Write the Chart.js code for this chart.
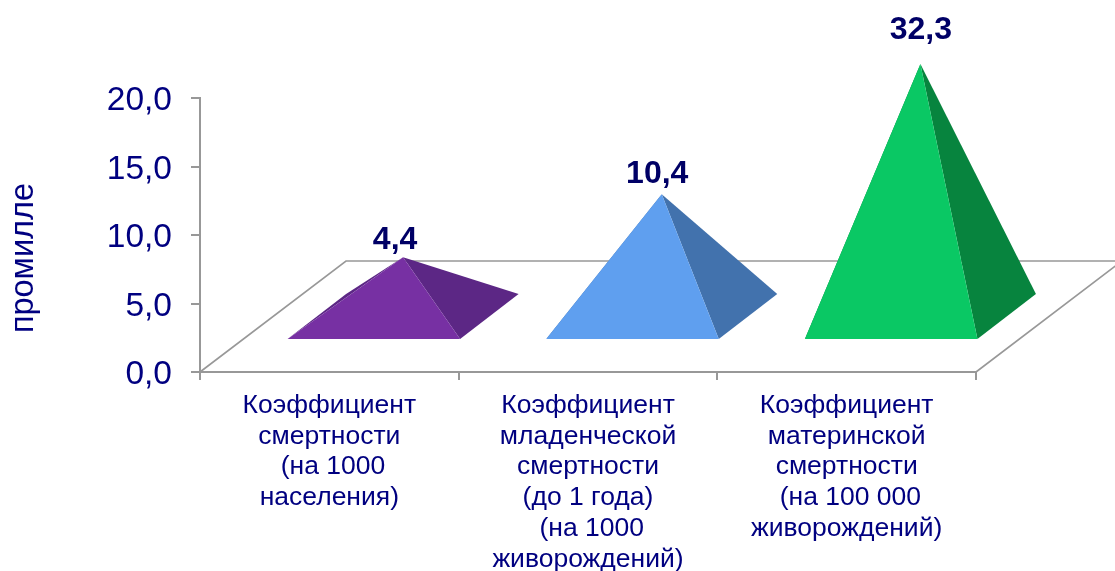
<!DOCTYPE html>
<html><head><meta charset="utf-8">
<style>html,body{margin:0;padding:0;background:#fff}canvas{display:block}</style>
<script src="https://cdn.jsdelivr.net/npm/chart.js@4/dist/chart.umd.min.js"></script>
</head><body>
<div style="width:1115px;height:571px"><canvas id="c" width="1115" height="571"></canvas></div>
<script>
const categories = [
  ["Коэффициент","смертности"," (на 1000","населения)"],
  ["Коэффициент","младенческой","смертности","(до 1 года)"," (на 1000","живорождений)"],
  ["Коэффициент","материнской","смертности"," (на 100 000","живорождений)"]
];
// Printed values of the series
const printedValues = [4.4, 10.4, 32.3];
// Height of each pyramid as read against the value axis (the original axis is cut at 20)
const drawnHeights = [4.4, 9.0, 18.5];
const yTicks = [0, 5, 10, 15, 20];
const axisTitle = "промилле";
const frontColors = ["#7730a3", "#5f9fef", "#0ac864"];
const sideColors = ["#5c2785", "#4272ad", "#07843e"];

const NAVY = "#000080", GREY = "#989898", FONT = "'Liberation Sans', Arial, sans-serif";
const floor3d = {dx: 146, dy: -111, fx: 44.5, fy: -32, bx: 103, by: -77};
const labelShift = [[-8, -17.5], [-4.5, -20.5], [0.5, -33.5]];
const fmt = v => v.toFixed(1).replace(".", ",");

const pyramids = {
  id: "pyramids",
  beforeDraw(chart) {
    chart.scales.y.getLabelItems().forEach(it => { it.textOffset = 3; });
  },
  beforeDatasetsDraw(chart) {
    const {ctx, chartArea: a} = chart;
    ctx.save();
    ctx.strokeStyle = GREY;
    ctx.lineWidth = 1.6;
    ctx.beginPath();
    ctx.moveTo(a.left, a.bottom); ctx.lineTo(a.left + floor3d.dx, a.bottom + floor3d.dy);
    ctx.lineTo(a.right + floor3d.dx, a.bottom + floor3d.dy); ctx.lineTo(a.right, a.bottom);
    ctx.stroke();
    ctx.restore();
  },
  afterDatasetsDraw(chart) {
    const {ctx} = chart;
    const meta = chart.getDatasetMeta(0);
    meta.data.forEach((bar, i) => {
      const w = bar.width, l = bar.x - w / 2;
      const {fx, fy, bx, by} = floor3d;
      const y0 = bar.base;
      const fl = [l + fx, y0 + fy], fr = [l + w + fx, y0 + fy];
      const bl = [l + bx, y0 + by], br = [l + w + bx, y0 + by];
      const apex = [bar.x + (fx + bx) / 2, bar.y + (fy + by) / 2];
      const poly = (pts, col) => {
        ctx.fillStyle = col; ctx.beginPath();
        pts.forEach((p, k) => k ? ctx.lineTo(p[0], p[1]) : ctx.moveTo(p[0], p[1]));
        ctx.closePath(); ctx.fill();
      };
      poly([fl, bl, apex], sideColors[i]);
      poly([fr, br, apex], sideColors[i]);
      poly([fl, fr, apex], frontColors[i]);
      ctx.save();
      ctx.fillStyle = "#000066";
      ctx.font = "bold 32px " + FONT;
      ctx.textAlign = "center"; ctx.textBaseline = "middle";
      ctx.fillText(fmt(printedValues[i]), apex[0] + labelShift[i][0], apex[1] + labelShift[i][1]);
      ctx.restore();
    });
  }
};

new Chart(document.getElementById("c"), {
  type: "bar",
  plugins: [pyramids],
  data: {
    labels: categories,
    datasets: [{
      data: drawnHeights,
      backgroundColor: "rgba(0,0,0,0)",
      barPercentage: 0.667,
      categoryPercentage: 1
    }]
  },
  options: {
    responsive: false,
    animation: false,
    layout: {padding: {top: 98, right: 139, left: 0, bottom: 0}},
    plugins: {legend: {display: false}, tooltip: {enabled: false}},
    scales: {
      x: {
        afterFit(s) { s.height = 199; },
        grid: {drawOnChartArea: false, color: GREY, tickLength: 8, lineWidth: 2},
        border: {color: GREY, width: 2},
        ticks: {color: NAVY, font: {family: FONT, size: 26.5, lineHeight: 1.165}, padding: 10, maxRotation: 0, autoSkip: false}
      },
      y: {
        min: 0, max: 20,
        afterFit(s) {
          s.width = 200;
          if (!s._titleMoved) {
            const draw = s.drawTitle;
            s.drawTitle = function () {
              s.ctx.save(); s.ctx.translate(0, 23); draw.call(s); s.ctx.restore();
            };
            s._titleMoved = true;
          }
        },
        afterBuildTicks(s) { s.ticks = yTicks.map(v => ({value: v})); },
        grid: {drawOnChartArea: false, color: GREY, tickLength: 9, lineWidth: 2},
        border: {color: GREY, width: 2},
        ticks: {color: NAVY, font: {family: FONT, size: 33.5}, padding: 19, callback: v => fmt(v)},
        title: {display: true, text: axisTitle, color: NAVY, font: {family: FONT, size: 32.5}, padding: {top: 5, bottom: 0}}
      }
    }
  }
});
</script>
</body></html>
